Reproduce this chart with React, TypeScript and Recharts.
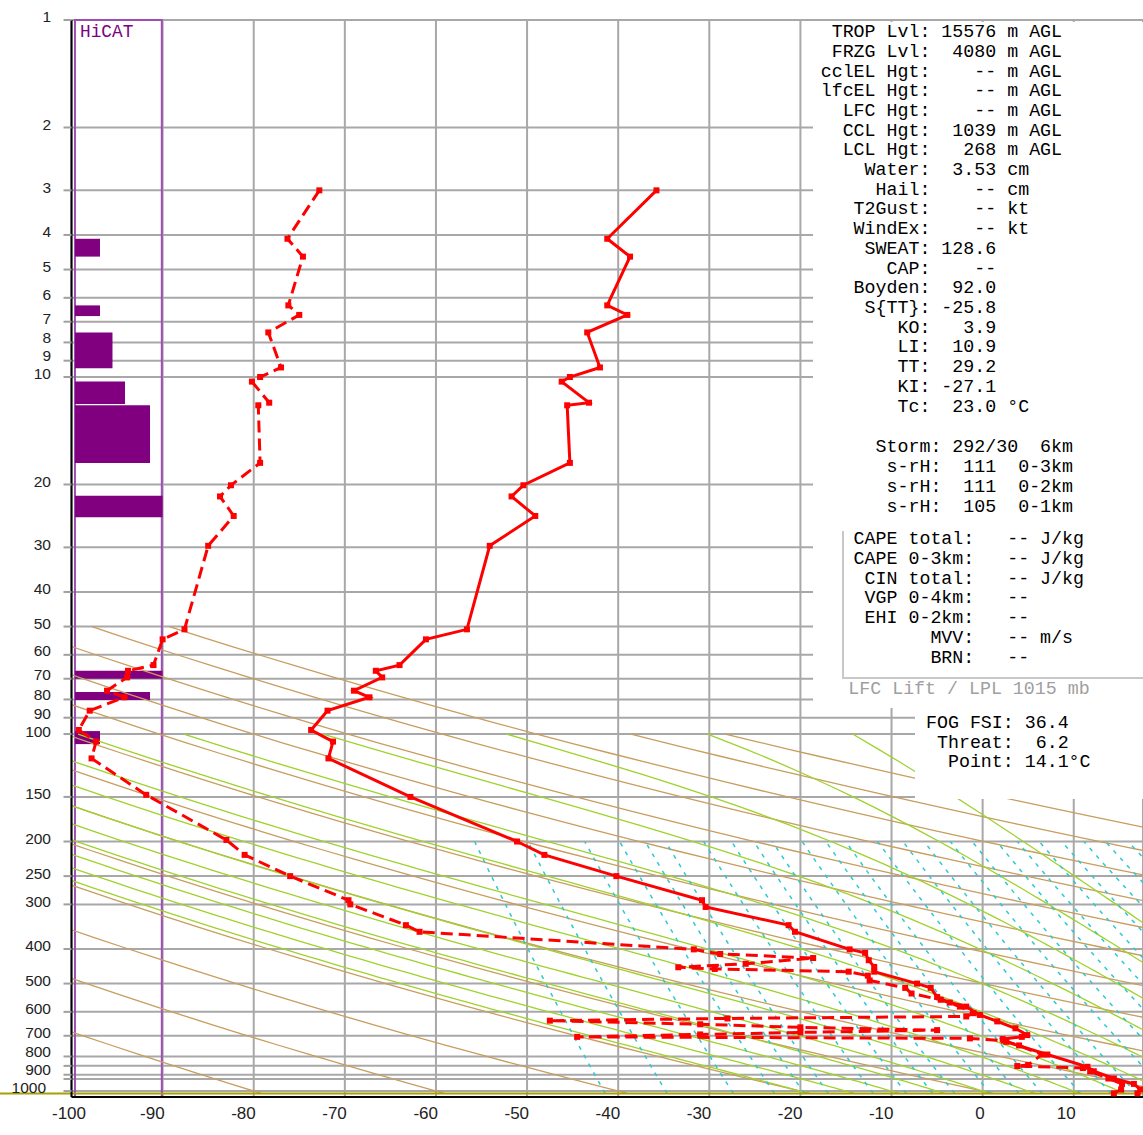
import React from "react";
import { ComposedChart, Line, XAxis, YAxis, CartesianGrid, ReferenceArea, ReferenceLine } from "recharts";

const CHART_W = 1143;
const CHART_H = 1135;

const temperatureTicks = [-100, -90, -80, -70, -60, -50, -40, -30, -20, -10, 0, 10];
const pressureTicks = [1, 2, 3, 4, 5, 6, 7, 8, 9, 10, 20, 30, 40, 50, 60, 70, 80, 90, 100, 150, 200, 250, 300, 400, 500, 600, 700, 800, 850, 900, 925, 1000];
const unlabeledPressures = [850, 925];

// [pressure mb, temperature °C]
const temperatureProfile: [number, number][] = [
  [3.0, -35.8], [4.1, -41.2], [4.6, -38.7], [6.3, -41.2], [6.7, -39.0], [7.5, -43.4], [9.4, -42.0],
  [10.0, -45.3], [10.3, -46.2], [11.8, -43.2], [12.0, -45.6], [17.4, -45.3], [20.1, -50.4], [21.6, -51.7],
  [24.5, -49.1], [29.7, -54.1], [50.9, -56.6], [54.3, -61.1], [64.1, -64.0], [66.5, -66.6], [69.4, -65.9],
  [75.6, -69.0], [78.9, -67.3], [86.0, -71.9], [97.4, -73.7], [105, -71.3], [117, -71.8], [150, -62.8],
  [200, -51.1], [218, -48.1], [250, -40.2], [292, -30.8], [305, -30.4], [343, -21.3], [358, -20.6],
  [401, -14.6], [410, -12.9], [430, -12.5], [449, -11.9], [463, -11.9], [500, -7.2], [514, -5.7],
  [545, -5.0], [565, -3.6], [580, -1.8], [612, -0.3], [638, 1.6], [667, 3.6], [697, 4.9], [705, 4.3],
  [715, 2.2], [728, 2.6], [790, 7.1], [855, 11.5], [880, 12.2], [922, 14.4], [955, 16.6], [990, 17.3],
  [1015, 17.0],
];

// [pressure mb, dewpoint °C]
const dewpointProfile: [number, number][] = [
  [3.0, -72.8], [4.1, -76.3], [4.6, -74.6], [6.3, -76.2], [6.7, -75.0], [7.5, -78.4], [9.4, -77.0],
  [10.0, -79.3], [10.3, -80.2], [11.8, -78.3], [12.0, -79.5], [17.4, -79.3], [20.1, -82.5], [21.6, -83.7],
  [24.5, -82.2], [29.7, -85.0], [50.9, -87.6], [54.3, -90.0], [64.1, -91.0], [66.5, -93.8], [69.4, -93.9],
  [75.6, -96.1], [78.9, -94.2], [86.0, -98.0], [97.4, -99.2], [105, -97.3], [117, -97.8], [148, -91.8],
  [198, -83.0], [218, -81.0], [250, -76.0], [292, -69.6], [300, -69.4], [343, -63.3], [358, -61.8],
  [401, -31.7], [413, -28.8], [424, -18.6], [440, -26.0], [450, -33.4], [455, -29.4], [463, -14.7],
  [475, -12.6], [490, -12.4], [514, -8.5], [533, -7.8], [555, -4.6], [580, -2.5], [605, -1.0], [618, -1.8],
  [626, -28.0], [635, -47.5], [650, -31.0], [663, -20.0], [675, -5.0], [685, -20.0], [694, -31.0],
  [705, -44.5], [712, -1.4], [722, 2.3], [745, 4.0], [790, 6.5], [845, 5.0], [851, 3.8], [862, 11.0],
  [880, 11.8], [922, 13.8], [955, 15.3], [990, 15.2], [1015, 14.4],
];

// HiCAT layers: [top pressure, bottom pressure, intensity level]
const hicatLayers: [number, number, number][] = [
  [4.1, 4.6, 2], [6.3, 6.75, 2], [7.5, 9.45, 3], [10.3, 11.9, 4], [12.0, 17.4, 6],
  [21.5, 24.7, 7], [66.5, 70.0, 7], [76.3, 80.3, 6], [98.1, 106.7, 2],
];

// dry adiabats: [potential temperature K, top pressure of the drawn line mb]
const dryAdiabats: [number, number][] = [
  [193.15, 50], [213.15, 50], [233.15, 50], [253.15, 50], [273.15, 50], [293.15, 50], [313.15, 50],
  [333.15, 50], [353.15, 50], [373.15, 50], [393.15, 50], [413.15, 50], [433.15, 50],
  [453.15, 100], [473.15, 100],
];
const moistAdiabatBases = [-20, -15, -10, -5, 0, 5, 10, 15, 20, 25, 30, 35, 40, 45];
const mixingRatioValues = [0.1, 0.2, 0.4, 0.6, 0.8, 1, 1.5, 2, 2.5, 3, 4, 5, 6, 8, 10, 12, 15, 18, 22, 26, 31, 37, 44, 52, 62];
const surfacePressure = 1015;

// label centre positions (px) where neighbouring labels are nudged apart, as in the reference
const pressureLabelY: Record<number, number> = {
  7: 318.5, 8: 337.5, 9: 356, 10: 374, 60: 651, 70: 674.5, 80: 695, 90: 713.5, 100: 732,
  800: 1052, 900: 1069.5, 1000: 1087.5,
};

const statsLines = [
  " TROP Lvl: 15576 m AGL",
  " FRZG Lvl:  4080 m AGL",
  "cclEL Hgt:    -- m AGL",
  "lfcEL Hgt:    -- m AGL",
  "  LFC Hgt:    -- m AGL",
  "  CCL Hgt:  1039 m AGL",
  "  LCL Hgt:   268 m AGL",
  "    Water:  3.53 cm",
  "     Hail:    -- cm",
  "   T2Gust:    -- kt",
  "   WindEx:    -- kt",
  "    SWEAT: 128.6",
  "      CAP:    --",
  "   Boyden:  92.0",
  "    S{TT}: -25.8",
  "       KO:   3.9",
  "       LI:  10.9",
  "       TT:  29.2",
  "       KI: -27.1",
  "       Tc:  23.0 °C",
];
const stormLines = [
  "     Storm: 292/30  6km",
  "      s-rH:  111  0-3km",
  "      s-rH:  111  0-2km",
  "      s-rH:  105  0-1km",
];
const capeLines = [
  "   CAPE total:   -- J/kg",
  "   CAPE 0-3km:   -- J/kg",
  "    CIN total:   -- J/kg",
  "    VGP 0-4km:   --",
  "    EHI 0-2km:   --",
  "          MVV:   -- m/s",
  "          BRN:   --",
];
const fogLines = ["FOG FSI: 36.4", " Threat:  6.2", "  Point: 14.1°C"];

const toPts = (rows: [number, number][]) => rows.map(([p, t]) => ({ p, t }));

function satVap(tc: number) {
  return 6.112 * Math.exp((17.67 * tc) / (tc + 243.5));
}

function dryAdiabatPoints(theta: number, pTop: number) {
  const pts = [];
  const n = 48;
  for (let i = 0; i <= n; i++) {
    const p = pTop * Math.pow(surfacePressure / pTop, i / n);
    pts.push({ p, t: theta * Math.pow(p / 1000, 0.286) - 273.15 });
  }
  return pts;
}

function moistAdiabatPoints(t1000: number) {
  const Rd = 287.04, cp = 1005.7, Lv = 2.501e6, eps = 0.622;
  const slope = (p: number, T: number) => {
    const e = satVap(T - 273.15);
    const rs = (eps * e) / (p - e);
    return (Rd * T + Lv * rs) / (p * (cp + (Lv * Lv * rs * eps) / (Rd * T * T)));
  };
  const step = (p: number, T: number, dp: number) => {
    const k1 = slope(p, T);
    const k2 = slope(p + dp, T + dp * k1);
    return T + (dp * (k1 + k2)) / 2;
  };
  let Ts = t1000 + 273.15;
  for (let p = 1000; p < surfacePressure; p += 5) Ts = step(p, Ts, 5);
  const pts = [{ p: surfacePressure, t: Ts - 273.15 }];
  let T = t1000 + 273.15;
  for (let p = 1000; p >= 100; p -= 5) {
    if (p % 10 === 0) pts.push({ p, t: T - 273.15 });
    T = step(p, T, -5);
  }
  return pts;
}

function mixingRatioPoints(w: number) {
  const r = w / 1000;
  const pts = [];
  for (let i = 0; i <= 20; i++) {
    const p = surfacePressure * Math.pow(200 / surfacePressure, i / 20);
    const e = (r * p) / (0.622 + r);
    const L = Math.log(e / 6.112);
    pts.push({ p, t: (243.5 * L) / (17.67 - L) });
  }
  return pts;
}

const renderSquare = (props: any) => {
  const { cx, cy, index } = props;
  if (cx == null || cy == null) return <g key={index} />;
  return <rect key={index} x={cx - 3} y={cy - 3} width={6} height={6} fill="#ff0000" />;
};

const YTick = (props: any) => {
  const { y, payload } = props;
  const v = payload.value;
  if (unlabeledPressures.includes(v)) return <g />;
  const x = v === 1000 ? 46 : 51;
  const ty = pressureLabelY[v] !== undefined ? pressureLabelY[v] : y - 3;
  return (
    <text x={x} y={ty} dy="0.35em" textAnchor="end" fontSize={15.5} fontFamily="'Liberation Sans', Arial, sans-serif" fill="#222">
      {v}
    </text>
  );
};

const XTick = (props: any) => {
  const { x, payload } = props;
  const v = payload.value;
  const tx = v === -100 ? 86 : x + 2;
  return (
    <text x={tx} y={1113} dy="0.35em" textAnchor="end" fontSize={17} fontFamily="'Liberation Sans', Arial, sans-serif" fill="#222">
      {v}
    </text>
  );
};

const monoFont = "'Liberation Mono', 'Courier New', monospace";

const TextBlock = ({ lines, left, top, color = "#000", lh = 19.7 }: any) => (
  <pre
    style={{
      position: "absolute",
      left,
      top,
      margin: 0,
      fontFamily: monoFont,
      fontSize: 18.3,
      lineHeight: `${lh}px`,
      color,
      whiteSpace: "pre",
    }}
  >
    {lines.join("\n")}
  </pre>
);

export default function App() {
  const dryLines = dryAdiabats.map(([th, top]) => dryAdiabatPoints(th, top));
  const moistLines = moistAdiabatBases.map((t) => moistAdiabatPoints(t));
  const mixLines = mixingRatioValues.map((w) => mixingRatioPoints(w));
  const hicatLeft = -99.62;
  const hicatUnit = 1.373;

  return (
    <div style={{ position: "absolute", left: 0, top: 0, width: CHART_W, height: CHART_H, background: "#fff", overflow: "hidden" }}>
      <ComposedChart width={CHART_W} height={CHART_H} margin={{ top: 20, right: 0, bottom: 0, left: 0 }}>
        <CartesianGrid stroke="#a8a8a8" strokeWidth={2} />
        <XAxis
          type="number"
          dataKey="t"
          domain={[-100, 17.6]}
          allowDataOverflow
          ticks={temperatureTicks}
          interval={0}
          height={38}
          axisLine={{ stroke: "#000", strokeWidth: 2 }}
          tickLine={false}
          tick={<XTick />}
        />
        <YAxis
          type="number"
          dataKey="p"
          scale="log"
          domain={[1, 1039]}
          reversed
          allowDataOverflow
          ticks={pressureTicks}
          interval={0}
          width={71.5}
          tickSize={8}
          axisLine={{ stroke: "#000", strokeWidth: 2 }}
          tickLine={{ stroke: "#a0a0a0", strokeWidth: 2 }}
          tick={<YTick />}
        />
        {dryLines.map((pts, i) => (
          <Line key={"dry" + i} data={pts} dataKey="p" stroke="#c89d5e" strokeWidth={1.3} dot={false} activeDot={false} isAnimationActive={false} />
        ))}
        {moistLines.map((pts, i) => (
          <Line key={"moist" + i} data={pts} dataKey="p" stroke="#9fd22c" strokeWidth={1.3} dot={false} activeDot={false} isAnimationActive={false} />
        ))}
        {mixLines.map((pts, i) => (
          <Line key={"mix" + i} data={pts} dataKey="p" stroke="#2cc9d3" strokeWidth={1.5} strokeDasharray="4 6" dot={false} activeDot={false} isAnimationActive={false} />
        ))}
        <ReferenceLine
          segment={[{ x: -108, y: surfacePressure }, { x: 17.6, y: surfacePressure }]}
          stroke="#a8a000"
          strokeWidth={2}
          ifOverflow="visible"
        />
        <ReferenceArea x1={hicatLeft} x2={-90.09} y1={1} y2={1039} fill="none" stroke="#9d4db5" strokeWidth={2} ifOverflow="visible" />
        {hicatLayers.map(([pt, pb, lvl], i) => (
          <ReferenceArea key={"hc" + i} x1={hicatLeft} x2={hicatLeft + lvl * hicatUnit} y1={pt} y2={pb} fill="#800080" fillOpacity={1} stroke="none" ifOverflow="visible" />
        ))}
        <Line
          data={toPts(dewpointProfile)}
          dataKey="p"
          stroke="#ff0000"
          strokeWidth={3}
          strokeDasharray="12 6"
          dot={renderSquare}
          activeDot={false}
          isAnimationActive={false}
        />
        <Line
          data={toPts(temperatureProfile)}
          dataKey="p"
          stroke="#ff0000"
          strokeWidth={3}
          dot={renderSquare}
          activeDot={false}
          isAnimationActive={false}
        />
      </ComposedChart>

      <div style={{ position: "absolute", left: 80, top: 22, fontFamily: monoFont, fontSize: 17.8, lineHeight: "20px", color: "#800080" }}>HiCAT</div>

      <div style={{ position: "absolute", left: 813, top: 22, width: 330, height: 686, background: "#fff" }} />
      <div style={{ position: "absolute", left: 915, top: 708, width: 228, height: 91, background: "#fff" }} />
      <div
        style={{
          position: "absolute",
          left: 842,
          top: 531,
          width: 301,
          height: 146,
          borderLeft: "2px solid #c8c8c8",
          borderBottom: "2px solid #c8c8c8",
        }}
      />
      <TextBlock lines={statsLines} left={820.7} top={23.15} />
      <TextBlock lines={stormLines} left={820.7} top={438.4} />
      <TextBlock lines={capeLines} left={820.7} top={530.1} lh={19.8} />
      <TextBlock lines={["LFC Lift / LPL 1015 mb"]} left={848.3} top={680.1} color="#a0a0a0" />
      <TextBlock lines={fogLines} left={926} top={714.1} lh={19.65} />
    </div>
  );
}
